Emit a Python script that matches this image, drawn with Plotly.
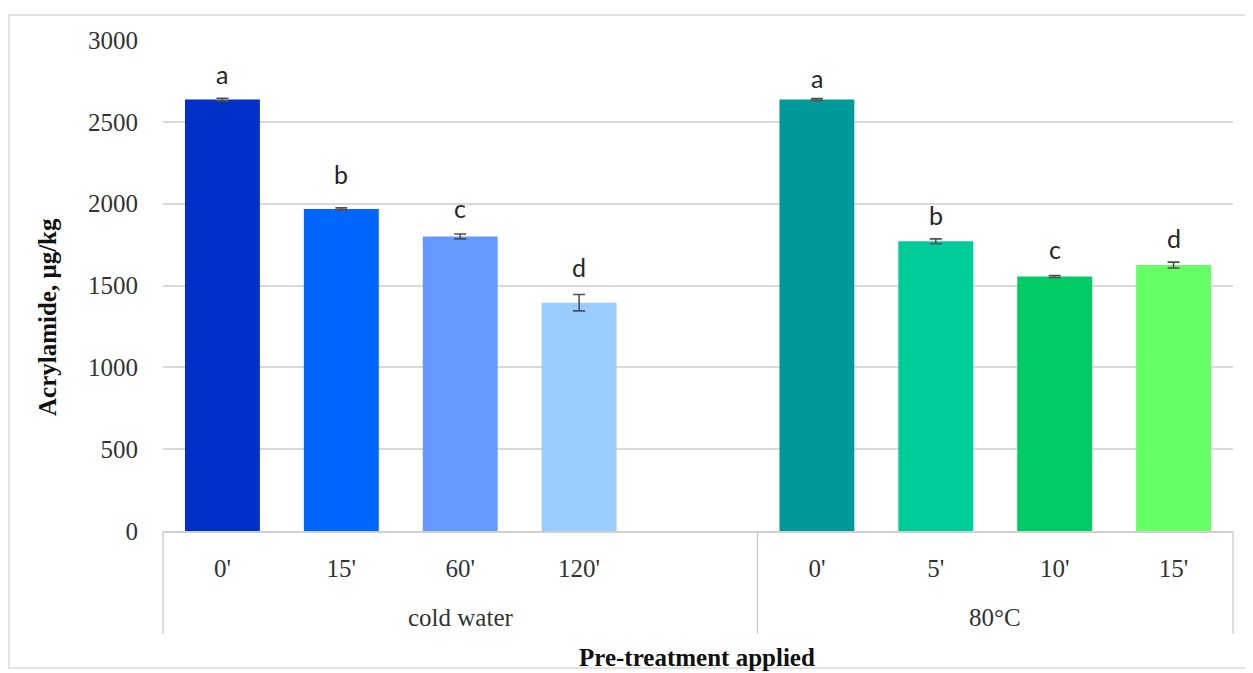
import plotly.graph_objects as go

# ---- data ----
group_names = ["cold water", "80°C"]
group_sizes = [5, 4]          # cold water group includes one empty slot
times = ["0'", "15'", "60'", "120'", "", "0'", "5'", "10'", "15'"]
acrylamide = [2636, 1968, 1800, 1395, None, 2636, 1770, 1555, 1625]
errors = [8, 6, 15, 50, 0, 6, 15, 6, 18]
letters = ["a", "b", "c", "d", "", "a", "b", "c", "d"]
y_ticks = [0, 500, 1000, 1500, 2000, 2500, 3000]

# ---- style ----
bar_colors = ["#0030C8", "#0066FF", "#6699FF", "#99CCFF", "#FFFFFF",
              "#009999", "#00CC99", "#00CC66", "#66FF66"]
letter_shift = [24, 34, 26, 28, 0, 21, 24, 27, 24]
serif = "Liberation Serif"
OFF = 8                       # page body margin of the browser
W, H = 1253 - OFF, 673 - OFF
L, R, T, B = 163 - OFF, 20, 40 - OFF, 142
pw, ph = W - L - R, H - T - B
PLOT_BOTTOM_REF = 531         # reference pixel of plot bottom


def px(x):
    return (x - 163) / pw


def py(y):
    return (PLOT_BOTTOM_REF - y) / ph


idx = list(range(len(times)))

fig = go.Figure()
fig.add_trace(go.Bar(
    x=idx,
    y=acrylamide,
    marker=dict(color=bar_colors, line=dict(width=0)),
    error_y=dict(type="data", array=errors, visible=True,
                 color="#505050", thickness=1.6, width=6),
    width=0.63,
    showlegend=False,
    hoverinfo="y",
))

annotations = []
for i, (v, e, lt, s) in enumerate(zip(acrylamide, errors, letters, letter_shift)):
    if v is None or not lt:
        continue
    annotations.append(dict(
        x=i, y=v + e, xref="x", yref="y", text=lt, showarrow=False,
        yanchor="middle", yshift=s,
        font=dict(family="Lato", size=25, color="#262626"),
    ))

# group labels and dividers
shapes = []
start = 0
n_total = len(times)
bounds = [0]
for name, size in zip(group_names, group_sizes):
    centre = (start + start + size) / 2 / n_total
    annotations.append(dict(
        x=centre, y=py(617), xref="paper", yref="paper", text=name,
        showarrow=False, xanchor="center", yanchor="middle",
        font=dict(family=serif, size=25, color="#333333"),
    ))
    start += size
    bounds.append(start)
for b in bounds:
    shapes.append(dict(type="line", xref="paper", yref="paper",
                       x0=b / n_total, x1=b / n_total, y0=0, y1=py(634),
                       line=dict(color="#D0D0D0", width=1.5)))

annotations.append(dict(
    x=px(47), y=py(317), xref="paper", yref="paper",
    text="<b>Acrylamide, μg/kg</b>", textangle=-90, showarrow=False,
    xanchor="center", yanchor="middle",
    font=dict(family=serif, size=25, color="#111111"),
))
annotations.append(dict(
    x=px(697), y=py(657), xref="paper", yref="paper",
    text="<b>Pre-treatment applied</b>", showarrow=False,
    xanchor="center", yanchor="middle",
    font=dict(family=serif, size=25, color="#111111"),
))

shapes.append(dict(type="rect", xref="paper", yref="paper",
                   x0=px(9), x1=px(1300), y0=py(668), y1=py(15),
                   line=dict(color="#DADADA", width=1.5), layer="below"))

fig.update_layout(
    width=W, height=H,
    margin=dict(l=L, r=R, t=T, b=B),
    plot_bgcolor="white", paper_bgcolor="white",
    annotations=annotations,
    shapes=shapes,
)
fig.update_xaxes(
    range=[-0.5, n_total - 0.5],
    tickvals=idx, ticktext=times,
    showline=True, linecolor="#D0D0D0", linewidth=1.5,
    ticks="", ticklabelstandoff=14,
    tickfont=dict(family=serif, size=25, color="#333333"),
    showgrid=False, zeroline=False,
)
fig.update_yaxes(
    range=[0, 3000], tickvals=y_ticks,
    showgrid=True, gridcolor="#D9D9D9", gridwidth=1.5,
    zeroline=False, showline=False,
    ticklabelstandoff=24,
    tickfont=dict(family=serif, size=25, color="#333333"),
)

fig.write_html("out.html")
